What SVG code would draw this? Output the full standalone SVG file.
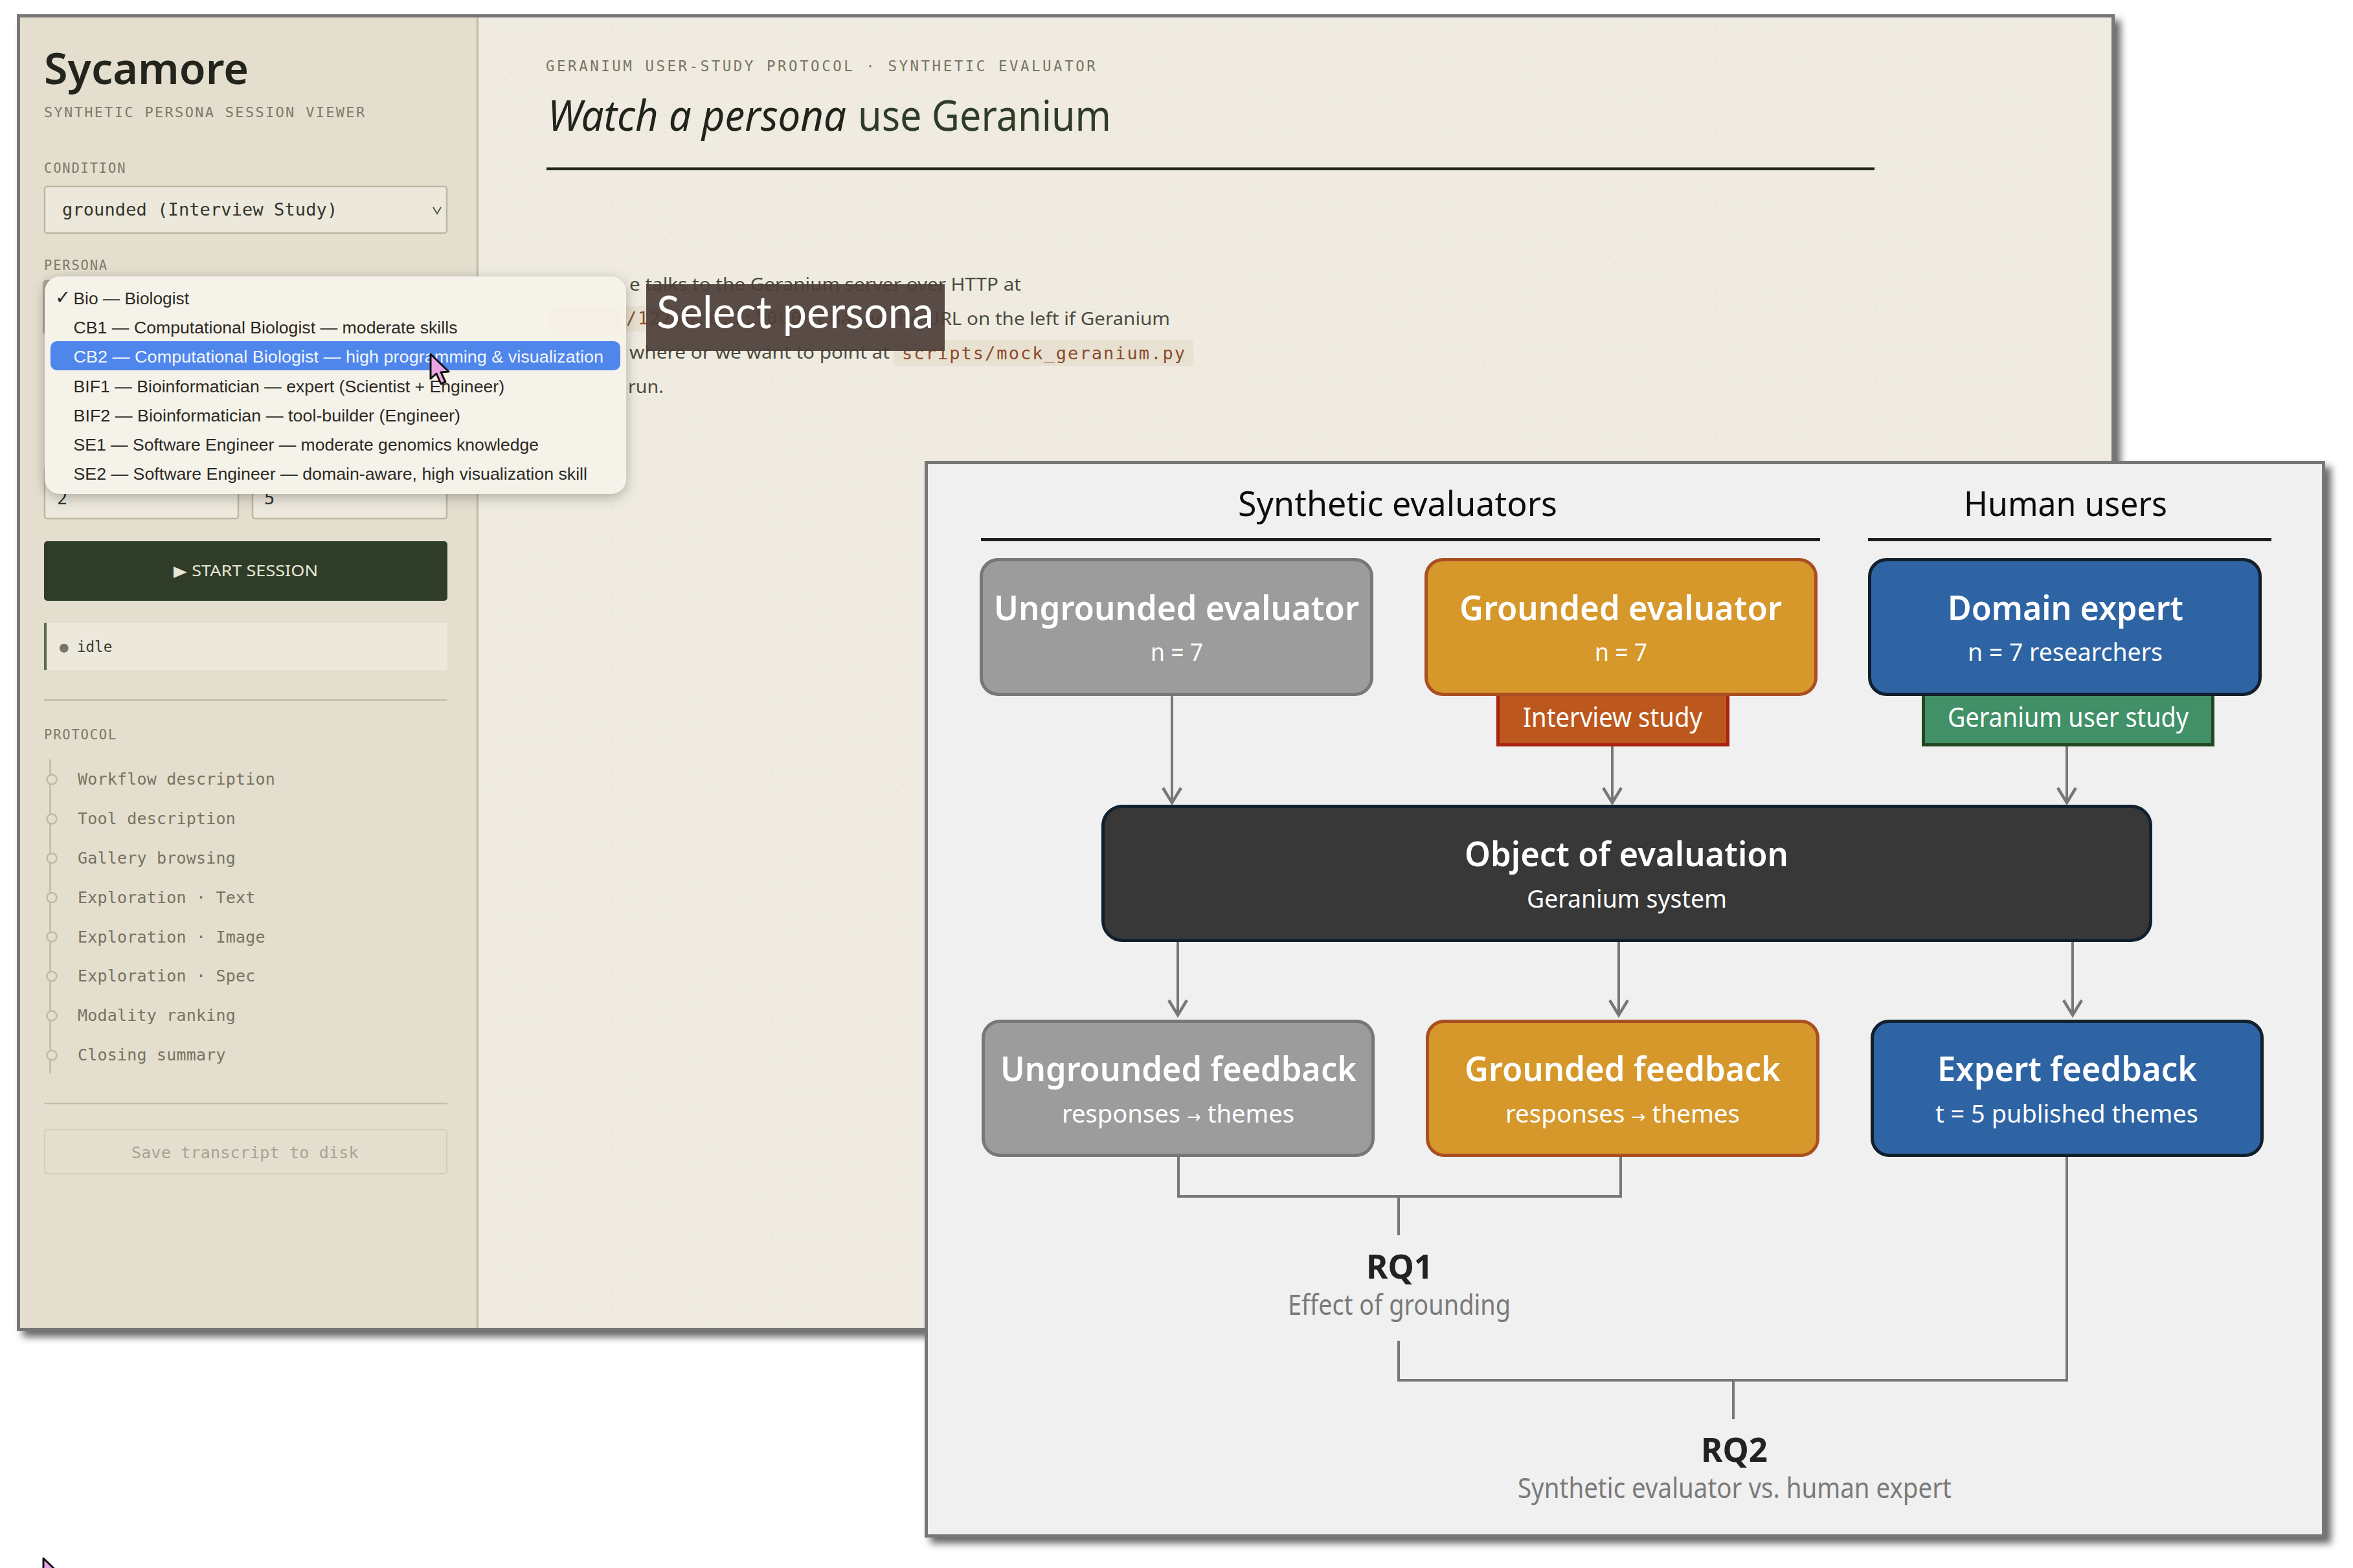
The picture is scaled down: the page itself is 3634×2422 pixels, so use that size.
<svg xmlns="http://www.w3.org/2000/svg" width="3634" height="2422" viewBox="0 0 3634 2422">
<style>
text{font-family:"Noto Sans","Open Sans",sans-serif;white-space:pre}
.m{font-family:"DejaVu Sans Mono","Liberation Mono",monospace}
.lab{font-size:20.5px;letter-spacing:1.8px;fill:#7f7a68}
.step{font-size:25px;letter-spacing:.2px;fill:#78735f}
.tl{fill:#e3dece;stroke:#c0baa5;stroke-width:2.5}
.body{font-size:27px;fill:#4c4b3f}
.code{font-size:27px;letter-spacing:2px;fill:#8a4b2c}
.opt{font-family:"Liberation Sans",Arial,sans-serif;font-size:25px;fill:#2c2a24}
.t{font-size:53px;font-weight:600;fill:#fff}
.s{font-size:38px;fill:#fff}
.ar{font-family:"DejaVu Sans",sans-serif;font-size:26px}
.h{font-size:53px;fill:#0c0c0c}
.tag{font-size:41px;fill:#fff}
.rq{font-size:52px;font-weight:700;fill:#222}
.rqs{font-size:43px;fill:#7a7a7a}
.n{stroke-width:5}
.grey{fill:#9c9c9c;stroke:#777}
.gold{fill:#d6972b;stroke:#a94f22}
.blue{fill:#2e64a4;stroke:#12202e}
.edge{fill:none;stroke:#777;stroke-width:4}
.arr{marker-end:url(#ah)}
</style>
<defs>
<filter id="sh" x="-5%" y="-5%" width="110%" height="110%"><feDropShadow dx="9" dy="9" stdDeviation="6" flood-color="#000" flood-opacity=".6"/></filter>
<filter id="dd" x="-10%" y="-15%" width="120%" height="130%"><feDropShadow dx="0" dy="5" stdDeviation="10" flood-color="#000" flood-opacity=".28"/></filter>
<pattern id="dots" width="27.5" height="27.5" patternUnits="userSpaceOnUse"><circle cx="10" cy="12" r="1.4" fill="#e6e1d4"/></pattern>
<marker id="ah" markerUnits="userSpaceOnUse" markerWidth="36" markerHeight="36" refX="26" refY="18" orient="auto"><path d="M3,4 L26,18 L3,32" fill="none" stroke="#777" stroke-width="4.5"/></marker>
<path id="cur" d="M0,0 L0,38 L9,30 L16,46 L23,43 L16,28 L28,27 Z" fill="#e9a4e2" stroke="#111" stroke-width="3" stroke-linejoin="round"/>
</defs>
<rect width="3634" height="2422" fill="#fff"/>

<g id="app-window">
<rect x="28.500" y="24.500" width="3235" height="2029" fill="#efebe1" stroke="#777" stroke-width="5" filter="url(#sh)"/>
<rect x="737" y="27" width="2524" height="2024" fill="url(#dots)"/>
<rect x="31" y="27" width="706" height="2024" fill="#e3dece"/>
<rect x="736" y="27" width="3" height="2024" fill="#c0baa5"/>
</g>

<g id="sidebar">
<text x="68" y="130" font-size="66" font-weight="600" fill="#23251d" textLength="316" lengthAdjust="spacingAndGlyphs">Sycamore</text>
<text class="m" x="68" y="181" font-size="22" letter-spacing="2.3" fill="#7f7a68">SYNTHETIC PERSONA SESSION VIEWER</text>
<text class="m lab" x="68" y="267">CONDITION</text>
<rect x="69" y="288" width="621" height="72" rx="4" fill="#ece8dc" stroke="#bdb7a2" stroke-width="2.500"/>
<text class="m" x="96" y="333" font-size="27" letter-spacing=".1" fill="#33352b">grounded (Interview Study)</text>
<path d="M669,320 L675,330 L681,320" fill="none" stroke="#55564a" stroke-width="2"/>
<text class="m lab" x="68" y="417">PERSONA</text>
<rect x="66" y="432" width="624" height="85" rx="6" fill="#a9a997"/>
<rect x="69" y="720" width="299" height="81" rx="4" fill="#ece8dc" stroke="#bdb7a2" stroke-width="2.500"/>
<rect x="390" y="720" width="300" height="81" rx="4" fill="#ece8dc" stroke="#bdb7a2" stroke-width="2.500"/>
<text class="m" x="88" y="779" font-size="27" fill="#33352b">2</text>
<text class="m" x="408" y="779" font-size="27" fill="#33352b">5</text>
<rect x="68" y="836" width="623" height="92" rx="5" fill="#2f3d28"/>
<text x="268" y="890" font-size="23" fill="#e8e6d8" textLength="223" lengthAdjust="spacingAndGlyphs">▶ START SESSION</text>
<rect x="68" y="962" width="623" height="73" fill="#ece8dc"/>
<rect x="68" y="962" width="4" height="73" fill="#5a6b4c"/>
<text class="m" x="92" y="1007" font-size="22.500" fill="#3a3a30"><tspan fill="#7a7562">●</tspan><tspan x="119">idle</tspan></text>
<rect x="68" y="1080" width="623" height="2.500" fill="#c4bda8"/>
<text class="m lab" x="68" y="1142">PROTOCOL</text>
<line x1="77.500" y1="1173" x2="77.500" y2="1658" stroke="#c0baa5" stroke-width="2.500"/>
<circle class="tl" cx="80" cy="1204" r="7.500"/><text class="m step" x="120" y="1212">Workflow description</text>
<circle class="tl" cx="80" cy="1265" r="7.500"/><text class="m step" x="120" y="1273">Tool description</text>
<circle class="tl" cx="80" cy="1325.500" r="7.500"/><text class="m step" x="120" y="1334">Gallery browsing</text>
<circle class="tl" cx="80" cy="1386.500" r="7.500"/><text class="m step" x="120" y="1395">Exploration · Text</text>
<circle class="tl" cx="80" cy="1447" r="7.500"/><text class="m step" x="120" y="1456">Exploration · Image</text>
<circle class="tl" cx="80" cy="1508" r="7.500"/><text class="m step" x="120" y="1516">Exploration · Spec</text>
<circle class="tl" cx="80" cy="1569" r="7.500"/><text class="m step" x="120" y="1577">Modality ranking</text>
<circle class="tl" cx="80" cy="1630" r="7.500"/><text class="m step" x="120" y="1638">Closing summary</text>
<rect x="68" y="1703.500" width="623" height="2" fill="#c4bda8"/>
<rect x="69" y="1745" width="621" height="68" rx="4" fill="none" stroke="#d2ccb8" stroke-width="2"/>
<text class="m" x="203" y="1789" font-size="25" letter-spacing=".2" fill="#a8a392">Save transcript to disk</text>
</g>

<g id="main-content">
<text class="m" x="843" y="110" font-size="22.500" letter-spacing="3.500" fill="#7a7464">GERANIUM USER-STUDY PROTOCOL · SYNTHETIC EVALUATOR</text>
<text x="846" y="202" font-size="65" font-style="italic" fill="#20241c" textLength="461" lengthAdjust="spacingAndGlyphs">Watch a persona</text>
<text x="1325" y="202" font-size="65" fill="#2f3d28" textLength="391" lengthAdjust="spacingAndGlyphs">use Geranium</text>
<rect x="844" y="258.500" width="2051" height="4.500" fill="#23261c"/>
<text class="body" x="972" y="449" textLength="605" lengthAdjust="spacingAndGlyphs">e talks to the Geranium server over HTTP at</text>
<rect x="900" y="473" width="340" height="39" rx="4" fill="#e8e1d2"/>
<text class="m code" x="967" y="501" textLength="272">/127.0.0.1:5000</text>
<text class="body" x="1262" y="502" textLength="545" lengthAdjust="spacingAndGlyphs">Change the URL on the left if Geranium</text>
<text class="body" x="972" y="554" textLength="402" lengthAdjust="spacingAndGlyphs">where or we want to point at</text>
<rect x="1380" y="525" width="463" height="40" rx="4" fill="#e8e1d2"/>
<text class="m code" x="1393" y="555" textLength="439">scripts/mock_geranium.py</text>
<text class="body" x="970" y="607" textLength="55" lengthAdjust="spacingAndGlyphs">run.</text>
</g>

<g id="select-persona-caption">
<rect x="998" y="439" width="461" height="103" fill="#4d3e39" fill-opacity=".93"/>
<text x="1014" y="507" style="font-family:Lato,'Noto Sans',sans-serif" font-size="70" fill="#fff" textLength="428" lengthAdjust="spacingAndGlyphs">Select persona</text>
</g>

<g id="persona-dropdown">
<rect x="69" y="427" width="898" height="336" rx="24" fill="#f5f2ea" filter="url(#dd)"/>
<rect x="850" y="476" width="110" height="40" fill="#f5efe5"/>
<text x="85" y="469" style="font-family:'DejaVu Sans',sans-serif" font-size="29" font-weight="700" fill="#2c2a24">✓</text>
<text class="opt" x="113.500" y="470" textLength="178.500" lengthAdjust="spacingAndGlyphs">Bio — Biologist</text>
<text class="opt" x="113.500" y="515" textLength="593" lengthAdjust="spacingAndGlyphs">CB1 — Computational Biologist — moderate skills</text>
<rect x="78" y="527" width="880" height="45" rx="10" fill="#4f86ec"/>
<text class="opt" x="113.500" y="560" style="fill:#f2f5fb" textLength="818.500" lengthAdjust="spacingAndGlyphs">CB2 — Computational Biologist — high programming &amp; visualization</text>
<text class="opt" x="113.500" y="606" textLength="665.500" lengthAdjust="spacingAndGlyphs">BIF1 — Bioinformatician — expert (Scientist + Engineer)</text>
<text class="opt" x="113.500" y="651" textLength="597.500" lengthAdjust="spacingAndGlyphs">BIF2 — Bioinformatician — tool-builder (Engineer)</text>
<text class="opt" x="113.500" y="696" textLength="718.500" lengthAdjust="spacingAndGlyphs">SE1 — Software Engineer — moderate genomics knowledge</text>
<text class="opt" x="113.500" y="741" textLength="793.500" lengthAdjust="spacingAndGlyphs">SE2 — Software Engineer — domain-aware, high visualization skill</text>
<use href="#cur" x="665" y="547"/>
</g>

<g id="study-panel">
<rect x="1430.500" y="714.500" width="2158" height="1658" fill="#f0f0f0" stroke="#777" stroke-width="5" filter="url(#sh)"/>
<text class="h" x="1912" y="797" textLength="493" lengthAdjust="spacingAndGlyphs">Synthetic evaluators</text>
<rect x="1515" y="831" width="1296" height="5" fill="#1f1f1f"/>
<text class="h" x="3033" y="797" textLength="314" lengthAdjust="spacingAndGlyphs">Human users</text>
<rect x="2885" y="831" width="623" height="5" fill="#1f1f1f"/>
</g>

<g id="ungrounded-evaluator">
<rect class="n grey" x="1515.500" y="864.500" width="603" height="208" rx="26"/>
<text class="t" x="1535" y="957.500" textLength="564" lengthAdjust="spacingAndGlyphs">Ungrounded evaluator</text>
<text class="s" x="1777" y="1021" textLength="81" lengthAdjust="spacingAndGlyphs">n = 7</text>
</g>
<g id="interview-study">
<rect x="2313.500" y="1060" width="355" height="90.500" fill="#bc581d" stroke="#a82410" stroke-width="5"/>
<text class="tag" x="2352" y="1123" textLength="277" lengthAdjust="spacingAndGlyphs">Interview study</text>
</g>
<g id="grounded-evaluator">
<rect class="n gold" x="2202.500" y="864.500" width="602" height="208" rx="26"/>
<text class="t" x="2254" y="957.500" textLength="498" lengthAdjust="spacingAndGlyphs">Grounded evaluator</text>
<text class="s" x="2463" y="1021" textLength="81" lengthAdjust="spacingAndGlyphs">n = 7</text>
</g>
<g id="geranium-user-study">
<rect x="2970.500" y="1060" width="447" height="90.500" fill="#419068" stroke="#22471f" stroke-width="5"/>
<text class="tag" x="3008" y="1123" textLength="372" lengthAdjust="spacingAndGlyphs">Geranium user study</text>
</g>
<g id="domain-expert">
<rect class="n blue" x="2887.500" y="864.500" width="603" height="208" rx="26"/>
<text class="t" x="3008" y="957.500" textLength="364" lengthAdjust="spacingAndGlyphs">Domain expert</text>
<text class="s" x="3039" y="1021" textLength="301" lengthAdjust="spacingAndGlyphs">n = 7 researchers</text>
</g>
<g id="object-of-evaluation">
<rect x="1703.500" y="1245.500" width="1618" height="207" rx="30" fill="#383838" stroke="#12202e" stroke-width="5"/>
<text class="t" x="2262" y="1338" textLength="500" lengthAdjust="spacingAndGlyphs">Object of evaluation</text>
<text class="s" x="2358" y="1402" textLength="309" lengthAdjust="spacingAndGlyphs">Geranium system</text>
</g>
<g id="ungrounded-feedback">
<rect class="n grey" x="1518.500" y="1577.500" width="602" height="207" rx="26"/>
<text class="t" x="1545" y="1670" textLength="550" lengthAdjust="spacingAndGlyphs">Ungrounded feedback</text>
<text class="s" x="1640" y="1734" textLength="359" lengthAdjust="spacingAndGlyphs">responses <tspan class="ar">→</tspan> themes</text>
</g>
<g id="grounded-feedback">
<rect class="n gold" x="2204.500" y="1577.500" width="603" height="207" rx="26"/>
<text class="t" x="2262" y="1670" textLength="488" lengthAdjust="spacingAndGlyphs">Grounded feedback</text>
<text class="s" x="2325" y="1734" textLength="362" lengthAdjust="spacingAndGlyphs">responses <tspan class="ar">→</tspan> themes</text>
</g>
<g id="expert-feedback">
<rect class="n blue" x="2891.500" y="1577.500" width="602" height="207" rx="26"/>
<text class="t" x="2992" y="1670" textLength="401" lengthAdjust="spacingAndGlyphs">Expert feedback</text>
<text class="s" x="2989" y="1734" textLength="406" lengthAdjust="spacingAndGlyphs">t = 5 published themes</text>
</g>
<g id="rq1">
<text class="rq" x="2110" y="1975" textLength="103" lengthAdjust="spacingAndGlyphs">RQ1</text>
<text class="rqs" x="1989" y="2031" textLength="344" lengthAdjust="spacingAndGlyphs">Effect of grounding</text>
</g>
<g id="rq2">
<text class="rq" x="2627" y="2258" textLength="103" lengthAdjust="spacingAndGlyphs">RQ2</text>
<text class="rqs" x="2344" y="2314" textLength="670" lengthAdjust="spacingAndGlyphs">Synthetic evaluator vs. human expert</text>
</g>

<g id="connectors">
<line class="edge arr" x1="1810" y1="1075" x2="1810" y2="1240"/>
<line class="edge arr" x1="2490" y1="1153" x2="2490" y2="1240"/>
<line class="edge arr" x1="3192" y1="1153" x2="3192" y2="1240"/>
<line class="edge arr" x1="1819" y1="1455" x2="1819" y2="1568"/>
<line class="edge arr" x1="2500" y1="1455" x2="2500" y2="1568"/>
<line class="edge arr" x1="3201" y1="1455" x2="3201" y2="1568"/>
<path class="edge" d="M1820,1787 V1848 H2503 V1787"/>
<line class="edge" x1="2160" y1="1848" x2="2160" y2="1908"/>
<path class="edge" d="M2160,2071 V2132 H3192 V1787"/>
<line class="edge" x1="2677" y1="2132" x2="2677" y2="2192"/>
</g>

<use id="stray-cursor" href="#cur" x="67" y="2407"/>
</svg>
